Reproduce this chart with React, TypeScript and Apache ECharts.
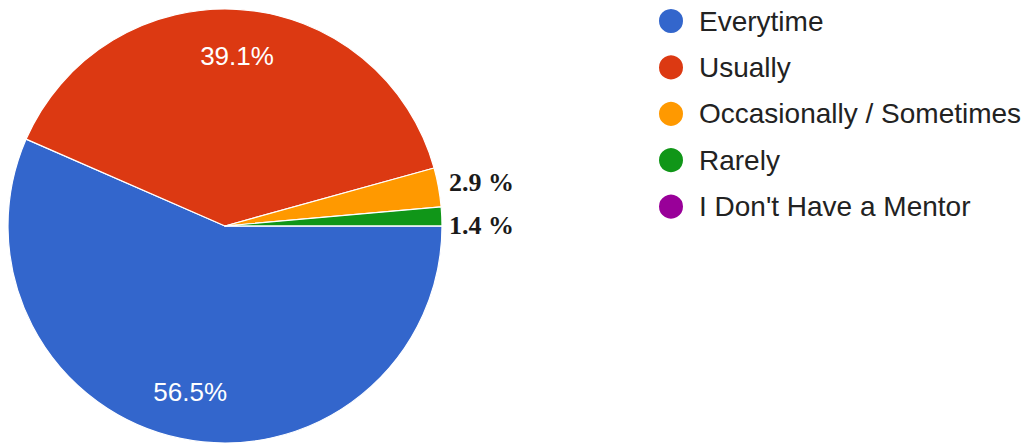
import React, { useEffect, useRef } from "react";
import * as echarts from "echarts";

const categories = ["Everytime", "Usually", "Occasionally / Sometimes", "Rarely", "I Don't Have a Mentor"];
const values = [56.5, 39.1, 2.9, 1.4, 0];
const colors = ["#3366cc", "#dc3912", "#ff9900", "#109618", "#990099"];
const insideLabelIdx = [0, 1];
const outsideLabelIdx = [2, 3];

export default function App() {
  const ref = useRef<HTMLDivElement>(null);
  useEffect(() => {
    if (!ref.current) return;
    const chart = echarts.init(ref.current, undefined, { renderer: "svg" });
    const cx = 225, cy = 226, r = 217;
    const mainData = categories.map((name, i) => ({
      name,
      value: values[i],
      itemStyle: { color: colors[i] },
    }));
    const labelData = categories.map((name, i) => ({
      name,
      value: values[i],
      itemStyle: { color: "rgba(0,0,0,0)", borderWidth: 0 },
      label: { show: insideLabelIdx.includes(i) },
    }));
    const outsideY = [183, 226];
    chart.setOption({
      animation: false,
      backgroundColor: "#ffffff",
      legend: {
        orient: "vertical",
        left: 657,
        top: 7,
        padding: 0,
        icon: "circle",
        itemWidth: 26,
        itemHeight: 26,
        itemGap: 18.4,
        data: categories,
        selectedMode: false,
        textStyle: {
          fontFamily: "Liberation Sans, Arial, sans-serif",
          fontSize: 28,
          lineHeight: 26,
          color: "#222222",
          padding: [0, 0, 0, 10],
        },
      },
      graphic: outsideLabelIdx.map((idx, k) => ({
        type: "text",
        left: 449,
        top: outsideY[k] - 14,
        style: {
          text: `${values[idx]} %`,
          font: "bold 26px 'Liberation Serif', 'Times New Roman', serif",
          fill: "#1a1a1a",
        },
      })),
      series: [
        {
          type: "pie",
          center: [cx, cy],
          radius: [0, r],
          startAngle: 0,
          clockwise: true,
          avoidLabelOverlap: false,
          silent: true,
          label: { show: false },
          labelLine: { show: false },
          itemStyle: { borderColor: "#ffffff", borderWidth: 1.2 },
          data: mainData,
        },
        {
          type: "pie",
          center: [cx, cy],
          radius: [117, r],
          startAngle: 0,
          clockwise: true,
          avoidLabelOverlap: false,
          silent: true,
          z: 5,
          label: {
            show: true,
            position: "inside",
            formatter: (p: any) => `${p.value}%`,
            color: "#ffffff",
            fontSize: 26,
            fontFamily: "Liberation Sans, Arial, sans-serif",
          },
          labelLine: { show: false },
          data: labelData,
        },
      ],
    });
    return () => chart.dispose();
  }, []);
  return <div ref={ref} style={{ position: "fixed", left: 0, top: 0, width: 1036, height: 447 }} />;
}
